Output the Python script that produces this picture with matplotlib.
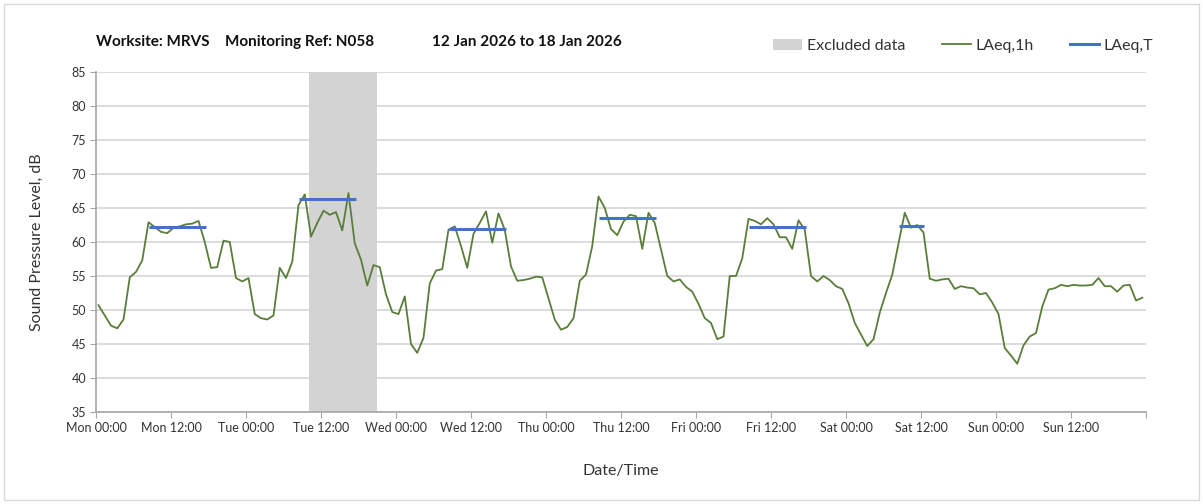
import numpy as np
import matplotlib
matplotlib.use("Agg")
import matplotlib.pyplot as plt
from matplotlib.patches import Patch, Rectangle
from matplotlib.lines import Line2D

plt.rcParams['font.family'] = ['Lato', 'DejaVu Sans']

# ---------------- data ----------------
laeq_1h = [
    50.7, 49.2, 47.7, 47.3, 48.6, 54.8, 55.6, 57.3, 62.9, 62.2, 61.5, 61.3,
    62.1, 62.3, 62.6, 62.7, 63.1, 60.0, 56.2, 56.3, 60.2, 60.0, 54.7, 54.2,
    54.7, 49.4, 48.8, 48.6, 49.2, 56.2, 54.7, 57.1, 65.4, 67.0, 60.8, 62.8,
    64.6, 64.0, 64.4, 61.7, 67.2, 59.8, 57.4, 53.6, 56.6, 56.3, 52.3, 49.7,
    49.4, 52.0, 45.0, 43.7, 45.9, 53.9, 55.8, 56.0, 61.8, 62.3, 59.4, 56.2,
    61.2, 62.8, 64.5, 59.9, 64.2, 61.8, 56.4, 54.3, 54.4, 54.6, 54.9, 54.8,
    51.7, 48.6, 47.1, 47.5, 48.8, 54.3, 55.2, 59.4, 66.7, 65.0, 61.9, 61.0,
    63.0, 64.0, 63.8, 59.0, 64.3, 62.8, 58.9, 55.0, 54.2, 54.5, 53.4, 52.7,
    50.9, 48.8, 48.1, 45.7, 46.1, 55.0, 55.0, 57.6, 63.4, 63.1, 62.6, 63.5,
    62.6, 60.7, 60.7, 59.0, 63.2, 61.8, 55.0, 54.2, 55.0, 54.4, 53.5, 53.1,
    51.0, 48.1, 46.4, 44.7, 45.7, 49.6, 52.5, 55.2, 59.8, 64.3, 62.1, 62.5,
    61.4, 54.6, 54.3, 54.5, 54.6, 53.1, 53.5, 53.3, 53.2, 52.3, 52.5, 51.1,
    49.4, 44.4, 43.3, 42.1, 44.8, 46.1, 46.6, 50.5, 53.0, 53.2, 53.7, 53.5,
    53.7, 53.6, 53.6, 53.7, 54.7, 53.5, 53.5, 52.7, 53.6, 53.7, 51.4, 51.8,
]
# LAeq,T periods: (first hour index, last hour index, level)
laeq_t_start = [8, 32, 56, 80, 104, 128]
laeq_t_end = [17, 41, 65, 89, 113, 132]
laeq_t_level = [62.2, 66.3, 61.9, 63.5, 62.2, 62.4]
# excluded period (hours from Mon 00:00)
excluded_start = 34
excluded_end = 45

days = ['Mon', 'Tue', 'Wed', 'Thu', 'Fri', 'Sat', 'Sun']
tick_labels = [f'{d} {t}' for d in days for t in ('00:00', '12:00')] + ['']

title_parts = ['Worksite: MRVS', 'Monitoring Ref: N058', '12 Jan 2026 to 18 Jan 2026']

# ---------------- plot ----------------
W, H = 1203, 504
fig = plt.figure(figsize=(W / 100, H / 100), dpi=100)
fig.patch.set_facecolor('white')
fig.add_artist(Rectangle((4 / W, 4 / H), 1 - 8 / W, 1 - 8 / H, transform=fig.transFigure,
                         fill=False, edgecolor='#D9D9D9', linewidth=1.0))

ax = fig.add_axes([96 / W, 1 - 412 / H, (1146 - 96) / W, (412 - 72) / H])

hours = np.arange(len(laeq_1h)) + 0.4

ax.axvspan(excluded_start, excluded_end, color='#D3D3D3', zorder=1, linewidth=0)
ax.plot(hours, laeq_1h, color='#5A7D3A', linewidth=1.3, zorder=3)
for s, e, lv in zip(laeq_t_start, laeq_t_end, laeq_t_level):
    ax.plot([hours[s], hours[e] + 0.15], [lv, lv], color='#4472C4', linewidth=2.2, zorder=4,
            solid_capstyle='butt')

ax.set_xlim(0, 168)
ax.set_ylim(35, 85)
ax.set_yticks(np.arange(35, 86, 5))
ax.set_xticks(np.arange(0, 169, 12))
ax.set_xticklabels(tick_labels)
ax.set_xticks(np.arange(0, 169, 24), minor=True)

ax.grid(False)
ax.yaxis.grid(True, color='#D9D9D9', linewidth=1.3, zorder=0)
ax.xaxis.grid(True, which='minor', color='#D9D9D9', linewidth=1.3, zorder=0)
ax.set_axisbelow(True)

for side in ('top', 'right'):
    ax.spines[side].set_visible(False)
for side in ('left', 'bottom'):
    ax.spines[side].set_color('#A6A6A6')
    ax.spines[side].set_linewidth(1.2)

ax.tick_params(axis='both', which='major', direction='out', length=4, color='#A6A6A6',
               labelsize=9, labelcolor='#333333', pad=3)
ax.tick_params(axis='x', which='minor', length=0)

ax.set_ylabel('Sound Pressure Level, dB', fontsize=11.5, color='#333333', labelpad=20)
ax.set_xlabel('Date/Time', fontsize=11.5, color='#333333', labelpad=22)

# title pieces
for xpx, txt in zip([96, 225, 432], title_parts):
    fig.text(xpx / W, 1 - 42 / H, txt, fontsize=11, fontweight='bold', color='#111111',
             ha='left', va='center')

handles = [Patch(facecolor='#D3D3D3', edgecolor='none'),
           Line2D([0], [0], color='#5A7D3A', linewidth=1.3),
           Line2D([0], [0], color='#4472C4', linewidth=2.2)]
labels = ['Excluded data', 'LAeq,1h', 'LAeq,T']
fig.legend(handles, labels, loc='center right', bbox_to_anchor=(1160 / W, 1 - 46 / H),
           ncol=3, frameon=False, fontsize=11.5, handlelength=1.8, handletextpad=0.3,
           columnspacing=2.3, labelcolor='#333333', borderaxespad=0)

fig.savefig('out.png', dpi=100)
